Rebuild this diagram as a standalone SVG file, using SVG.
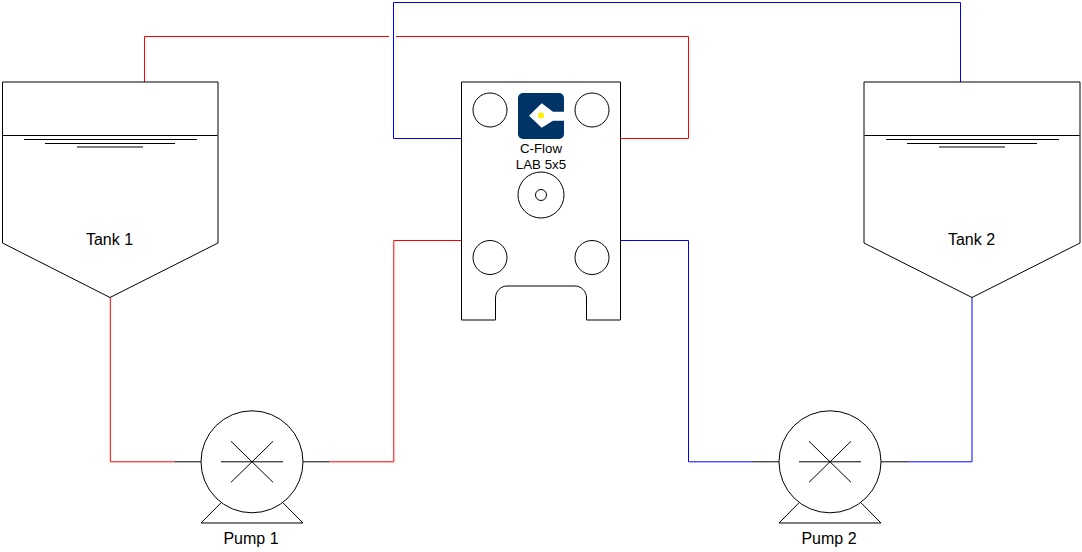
<svg xmlns="http://www.w3.org/2000/svg" width="1082" height="552" viewBox="0 0 1082 552">
<style>
.s{fill:none;stroke:#000;stroke-width:1}
.w{fill:#fff;stroke:#000;stroke-width:1}
.r{fill:none;stroke:#ff0000;stroke-width:1}
.b{fill:none;stroke:#0000ff;stroke-width:1}
text{font-family:"Liberation Sans",Arial,sans-serif;font-size:16px;fill:#000;text-anchor:middle}
.sm{font-size:13.300px}
</style>
<defs>
<g id="pumpShape">
<path class="s" d="M-31 41L-51 61.200H51L31 41"/>
<circle class="w" cx="0" cy="0" r="51"/>
<path class="s" d="M-31 0H31M-21-20.500L21 20.500M-21 20.500L21-20.500M-51 0H-77M51 0H77"/>
</g>
<g id="levelLines">
<path class="s" d="M2.500 135.500H217.500M24 139.500H197M45 143.500H175M77 147H143"/>
</g>
</defs>
<g id="connectors">
<path class="r" d="M144.500 82V36.500H389"/>
<path class="r" d="M396 36.500H688.500V138.500H621"/>
<path class="b" d="M461 138.500H393.500V2.500H960.500V82"/>
<path class="r" d="M110.300 297V461.800H175"/>
<path class="r" d="M329 461.800H393.800V240.500H461"/>
<path class="b" d="M621 240.500H688.500V461.800H753"/>
<path class="b" d="M907 461.800H972V297"/>
</g>
<g id="tank1">
<path class="w" d="M2.500 82H218V243L110 297.500L2.500 243Z"/>
<use href="#levelLines"/>
<text x="109.500" y="244.500">Tank 1</text>
</g>
<g id="tank2">
<path class="w" d="M864 82H1080V243L972 297.500L864 243Z"/>
<use href="#levelLines" x="862"/>
<text x="971.500" y="244.500">Tank 2</text>
</g>
<g id="clab">
<path class="w" d="M461.500 82H620.500V320H586.500V298C586.500 291 581 286 575 286H507C501 286 495.500 291 495.500 298V320H461.500Z"/>
<circle class="s" cx="490" cy="110" r="17"/>
<circle class="s" cx="592" cy="110" r="17"/>
<circle class="s" cx="490" cy="257.500" r="17"/>
<circle class="s" cx="592" cy="257.500" r="17"/>
<circle class="s" cx="541" cy="195" r="23"/>
<circle class="s" cx="541" cy="195" r="5.500"/>
<rect x="518" y="93" width="46" height="46" rx="5" fill="#003366"/>
<path d="M529 115.700L541.700 103.300L553 111.700H564V120.700H553L541.700 127.700Z" fill="#fff"/>
<circle cx="541" cy="115.500" r="3" fill="#ffee00"/>
<text class="sm" x="541" y="153">C-Flow</text>
<text class="sm" x="541" y="169">LAB 5x5</text>
</g>
<g id="pump1"><use href="#pumpShape" x="252" y="461.800"/><text x="251" y="544">Pump 1</text></g>
<g id="pump2"><use href="#pumpShape" x="830" y="461.800"/><text x="829" y="544">Pump 2</text></g>
</svg>
